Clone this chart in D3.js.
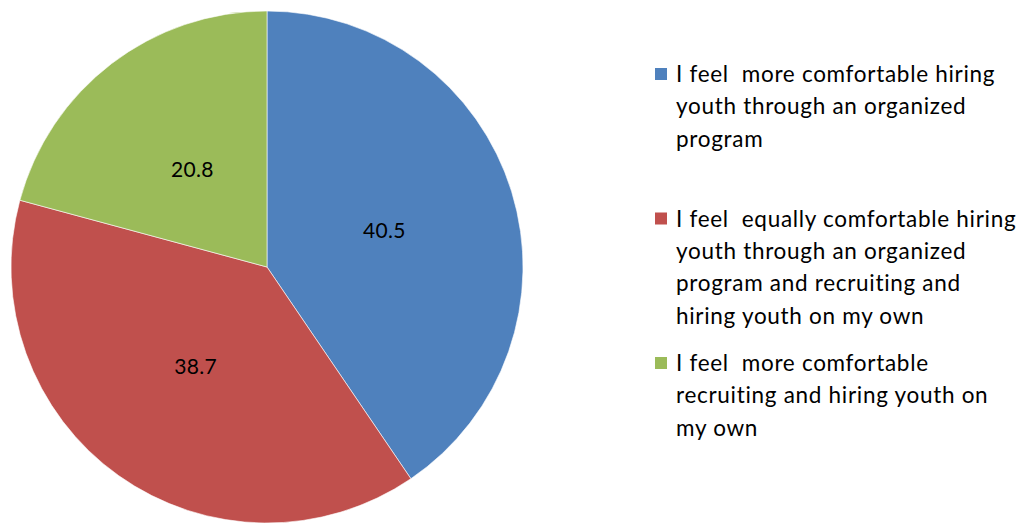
<!DOCTYPE html>
<html>
<head>
<meta charset="utf-8">
<script src="https://cdn.jsdelivr.net/npm/d3@7"></script>
<style>
  body { margin: 0; background: #fff; }
  text { font-family: Lato, "Open Sans", sans-serif; fill: #000; }
</style>
</head>
<body>
<script>
let categories = [
  "I feel more comfortable hiring youth through an organized program",
  "I feel equally comfortable hiring youth through an organized program and recruiting and hiring youth on my own",
  "I feel more comfortable recruiting and hiring youth on my own"
];
let values = [40.5, 38.7, 20.8];
// legend text broken the same way as the picture
let legendLines = [
  ["I feel  more comfortable hiring", "youth through an organized", "program"],
  ["I feel  equally comfortable hiring", "youth through an organized", "program and recruiting and", "hiring youth on my own"],
  ["I feel  more comfortable", "recruiting and hiring youth on", "my own"]
];
let colors = ["#4F81BD", "#C0504D", "#9BBB59"];

let width = 1027, height = 523;
let cx = 267, cy = 267, radius = 256;

const svg = d3.select("body")
  .append("svg")
  .attr("width", width)
  .attr("height", height);

let data = categories.map((c, i) => ({ name: c, value: values[i], color: colors[i], lines: legendLines[i] }));

let pie = d3.pie().sort(null).value(d => d.value);
let arc = d3.arc().innerRadius(0).outerRadius(radius);
let labelArc = d3.arc().innerRadius(radius * 0.48).outerRadius(radius * 0.48);

let g = svg.append("g").attr("transform", `translate(${cx},${cy})`);

g.selectAll(".slice")
  .data(pie(data))
  .enter()
  .append("path")
  .attr("class", "slice")
  .attr("d", arc)
  .style("fill", d => d.data.color)
  .style("stroke", "#fff")
  .style("stroke-width", 0.6);

g.selectAll(".val")
  .data(pie(data))
  .enter()
  .append("text")
  .attr("class", "val")
  .attr("transform", d => `translate(${labelArc.centroid(d)})`)
  .attr("dy", "0.35em")
  .style("text-anchor", "middle")
  .style("font-size", "21px")
  .style("letter-spacing", "0.3px")
  .text(d => d.data.value.toFixed(1));

// legend, entries spread evenly like excel does
let legendX = 655, legendTop = 82, slot = 144.5, lineH = 32.4;

let legend = svg.append("g").attr("id", "legend")
  .selectAll(".legend-item")
  .data(data)
  .enter()
  .append("g")
  .attr("class", "legend-item")
  .attr("transform", (d, i) => `translate(${legendX},${legendTop + i * slot})`);

legend.append("rect")
  .attr("x", 0)
  .attr("y", -14)
  .attr("width", 12)
  .attr("height", 12)
  .style("fill", d => d.color);

legend.append("text")
  .style("font-size", "22.5px")
  .style("letter-spacing", "0.7px")
  .selectAll("tspan")
  .data(d => d.lines)
  .enter()
  .append("tspan")
  .attr("x", 21)
  .attr("y", (d, i) => i * lineH)
  .style("white-space", "pre")
  .text(d => d);
</script>
</body>
</html>
